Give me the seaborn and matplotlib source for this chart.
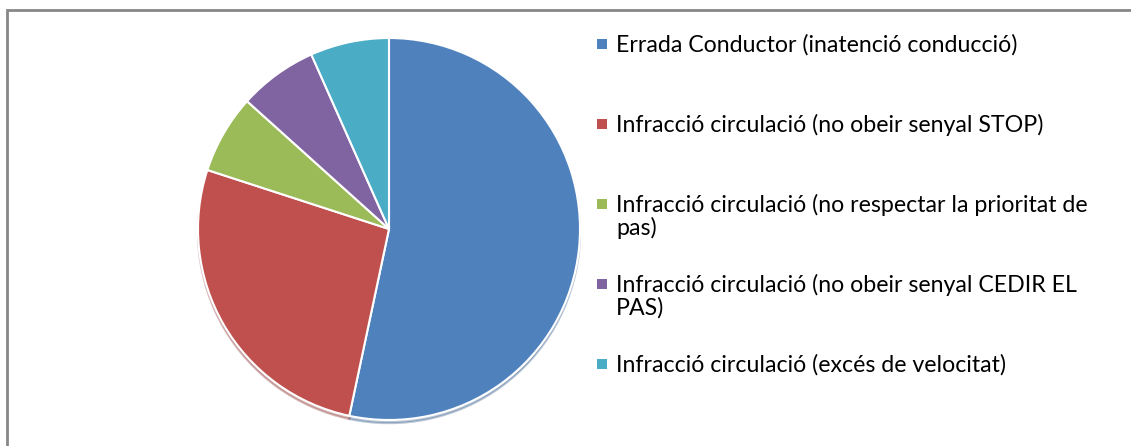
import matplotlib.pyplot as plt
from matplotlib.patches import Rectangle
import seaborn as sns

# causes of the accidents
labels = ['Errada Conductor (inatenció conducció)',
          'Infracció circulació (no obeir senyal STOP)',
          'Infracció circulació (no respectar la prioritat de\npas)',
          'Infracció circulació (no obeir senyal CEDIR EL\nPAS)',
          'Infracció circulació (excés de velocitat)']
counts = [8, 4, 1, 1, 1]
colors = ['#4F81BD', '#C0504D', '#9BBB59', '#8064A2', '#4BACC6']

W, H = 1131, 446

sns.set_theme(style='white')
plt.rcParams['font.family'] = ['Lato', 'DejaVu Sans']

fig = plt.figure(figsize=(W / 100, H / 100), dpi=100)

# pie: centre (389, 229) px, radius 191 px
cx, cy, r = 389, 229, 191
ax = fig.add_axes([(cx - r) / W, (H - cy - r) / H, 2 * r / W, 2 * r / H])
ax.pie(counts, colors=colors, startangle=90, counterclock=False,
       wedgeprops=dict(edgecolor='white', linewidth=1.5),
       shadow=dict(ox=0, oy=-0.012, shade=0.25, alpha=0.35))
ax.set_xlim(-1, 1)
ax.set_ylim(-1, 1)
ax.set_axis_off()

# legend, entries evenly spaced like the spreadsheet one
baselines = [52, 132, 212, 292, 372]
for lab, col, yb in zip(labels, colors, baselines):
    fig.add_artist(Rectangle((597 / W, (H - yb + 3) / H), 10 / W, 10 / H,
                             transform=fig.transFigure, color=col, lw=0))
    fig.text(616 / W, (H - yb + 18) / H, lab, fontsize=16.7, color='black',
             va='top', ha='left', linespacing=1.05)

# chart area border (only top/left visible in the crop)
fig.add_artist(Rectangle((7 / W, -0.5), 2, 1.5 - 10 / H, transform=fig.transFigure,
                         fill=False, edgecolor='#878787', lw=2))

fig.savefig('out.png', dpi=100)
